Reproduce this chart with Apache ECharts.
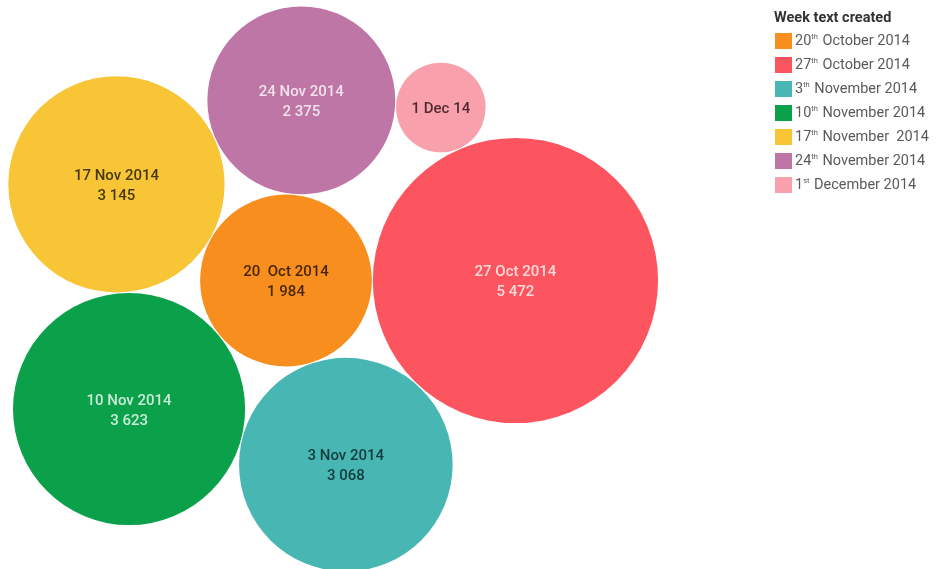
<!DOCTYPE html>
<html>
<head>
<meta charset="utf-8">
<title>Week text created</title>
<script src="https://cdn.jsdelivr.net/npm/echarts@6/dist/echarts.min.js"></script>
<style>
  html, body { margin: 0; padding: 0; background: #ffffff; }
  #chart { width: 939px; height: 569px; }
</style>
</head>
<body>
<div id="chart"></div>
<script>
// Weekly counts of texts created, one bubble per week
const bubbleLabels = ['20  Oct 2014', '27 Oct 2014', '3 Nov 2014', '10 Nov 2014', '17 Nov 2014', '24 Nov 2014', '1 Dec 14'];
const textCounts   = [1984, 5472, 3068, 3623, 3145, 2375, 540];

// Legend entries: day, ordinal suffix (drawn raised) and the rest of the label
const legendDays     = ['20', '27', '3', '10', '17', '24', '1'];
const legendSuffixes = ['th', 'th', 'th', 'th', 'th', 'th', 'st'];
const legendRests    = [' October 2014', ' October 2014', ' November 2014', ' November 2014', ' November  2014', ' November 2014', ' December 2014'];

const bubbleColors = ['#F78E1E', '#FD555F', '#48B6B3', '#0BA14B', '#F8C537', '#BE76A6', '#F9A0AD'];
const labelColors  = ['rgba(40,20,0,0.85)', 'rgba(255,255,255,0.78)', 'rgba(10,40,40,0.85)', 'rgba(255,255,255,0.78)',
                      'rgba(40,30,0,0.85)', 'rgba(255,255,255,0.78)', 'rgba(50,20,25,0.85)'];

// ---- bubble packing: each bubble is laid tangent to the previous one and the
// earliest bubble it can touch without overlapping, turning clockwise ----
const PAD = 0.5;
function tangentSpots(K, P, r) {
  const dK = K.r + r + PAD, dP = P.r + r + PAD;
  const dx = P.x - K.x, dy = P.y - K.y, D = Math.hypot(dx, dy);
  const ux = dx / D, uy = dy / D;
  const a = (dK * dK - dP * dP + D * D) / (2 * D);
  const h = Math.sqrt(Math.max(0, dK * dK - a * a));
  const bx = K.x + a * ux, by = K.y + a * uy;
  return [{ x: bx - h * uy, y: by + h * ux }, { x: bx + h * uy, y: by - h * ux }];
}
function packBubbles(radii) {
  const placed = [];
  radii.forEach((r, i) => {
    if (i === 0) { placed.push({ x: 0, y: 0, r }); return; }
    if (i === 1) { placed.push({ x: placed[0].r + r + PAD, y: 0, r }); return; }
    const prev = placed[i - 1];
    for (let k = 0; k < i - 1; k++) {
      const spot = tangentSpots(placed[k], prev, r).find(c =>
        placed.every(p => Math.hypot(p.x - c.x, p.y - c.y) >= p.r + r + PAD - 1e-6));
      if (spot) { placed.push({ x: spot.x, y: spot.y, r }); return; }
    }
    placed.push({ x: prev.x + prev.r + r + PAD, y: prev.y, r });
  });
  return placed;
}

// bubble area is proportional to the count
const radii = textCounts.map(v => Math.sqrt(v));
const layout = packBubbles(radii);

// view window (data units) around the first bubble
const PX_PER_UNIT = 1.928;
const ORIGIN_PX = [286, 280.5];
const W = 939, H = 569;

function groupThousands(v) {
  return String(v).replace(/\B(?=(\d{3})+(?!\d))/g, ' ');
}
function legendName(i) {
  return legendDays[i] + legendSuffixes[i] + legendRests[i];
}

const series = textCounts.map((v, i) => ({
  type: 'custom',
  name: legendName(i),
  coordinateSystem: 'cartesian2d',
  itemStyle: { color: bubbleColors[i] },
  encode: { x: 0, y: 1 },
  data: [[layout[i].x, layout[i].y, layout[i].r, v]],
  renderItem: function (params, api) {
    const c = api.coord([api.value(0), api.value(1)]);
    const r = api.size([api.value(2), 0])[0];
    const showValue = r > 60;
    const text = showValue ? bubbleLabels[i] + '\n' + groupThousands(api.value(3)) : bubbleLabels[i];
    return {
      type: 'group',
      children: [
        { type: 'circle', shape: { cx: c[0], cy: c[1], r: r }, style: { fill: bubbleColors[i] } },
        {
          type: 'text',
          style: {
            text: text,
            x: c[0], y: c[1] + 2,
            align: 'center', verticalAlign: 'middle',
            fill: labelColors[i],
            fontFamily: 'Roboto', fontWeight: 500, fontSize: 15, lineHeight: 20
          }
        }
      ]
    };
  }
}));

const chart = echarts.init(document.getElementById('chart'), null, { renderer: 'canvas' });
chart.setOption({
  animation: false,
  backgroundColor: '#ffffff',
  title: {
    text: 'Week text created',
    left: 769, top: 6,
    textStyle: { fontFamily: 'Roboto', fontWeight: 'bold', fontSize: 14.5, color: '#333333' }
  },
  legend: {
    orient: 'vertical',
    left: 770, top: 28,
    icon: 'rect',
    itemWidth: 17, itemHeight: 16, itemGap: 8,
    selectedMode: false,
    data: textCounts.map((v, i) => legendName(i)),
    formatter: function (name) {
      const i = textCounts.findIndex((v, j) => legendName(j) === name);
      return '{n|' + legendDays[i] + '}{s|' + legendSuffixes[i] + '}{n|' + legendRests[i] + '}';
    },
    textStyle: {
      padding: [0, 0, 0, -2],
      rich: {
        n: { fontFamily: 'Roboto', fontSize: 14.5, color: '#5a5a5a', lineHeight: 16 },
        s: { fontFamily: 'Roboto', fontSize: 7.5, color: '#5a5a5a', lineHeight: 16, padding: [0, 1, 7, 0] }
      }
    }
  },
  grid: { left: 0, top: 0, width: W, height: H, containLabel: false },
  xAxis: {
    type: 'value', show: false,
    min: -ORIGIN_PX[0] / PX_PER_UNIT, max: (W - ORIGIN_PX[0]) / PX_PER_UNIT
  },
  yAxis: {
    type: 'value', show: false, inverse: true,
    min: -ORIGIN_PX[1] / PX_PER_UNIT, max: (H - ORIGIN_PX[1]) / PX_PER_UNIT
  },
  tooltip: { show: false },
  series: series
});
</script>
</body>
</html>
